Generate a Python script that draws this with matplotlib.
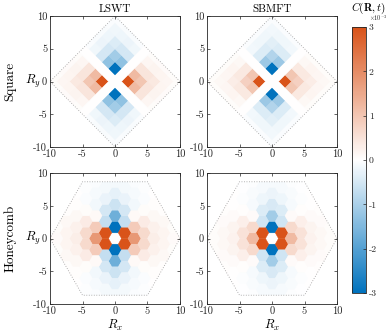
import numpy as np
import matplotlib
matplotlib.use("Agg")
import matplotlib.pyplot as plt
from matplotlib.collections import PolyCollection
from matplotlib.colors import LinearSegmentedColormap, Normalize
from matplotlib.patches import Polygon

plt.rcParams["font.family"] = "serif"
plt.rcParams["font.serif"] = ["cmr10", "DejaVu Serif"]
plt.rcParams["mathtext.fontset"] = "cm"
plt.rcParams["axes.unicode_minus"] = False
plt.rcParams["axes.formatter.use_mathtext"] = True

# ---- data (values in units of 1e-3), first quadrant, mirrored in x and y ----
# square lattice: tile centres (x, y) with x + y even
sq_x = [0, 2, 1, 0, 4, 3, 2, 1, 0, 6, 5, 4, 3, 2, 1, 0,
        8, 7, 6, 5, 4, 3, 2, 1, 0, 10, 9, 8, 7, 6, 5, 4, 3, 2, 1, 0]
sq_y = [0, 0, 1, 2, 0, 1, 2, 3, 4, 0, 1, 2, 3, 4, 5, 6,
        0, 1, 2, 3, 4, 5, 6, 7, 8, 0, 1, 2, 3, 4, 5, 6, 7, 8, 9, 10]
sq_lswt = [0, 3.3, 0, -3.3, 1.0, 1.2, 0, -1.3, -1.1,
           0.38, 0.45, 0.45, 0, -0.5, -0.5, -0.42,
           0.16, 0.18, 0.2, 0.16, 0, -0.18, -0.22, -0.2, -0.18,
           0.06, 0.07, 0.08, 0.08, 0.07, 0, -0.07, -0.08, -0.08, -0.07, -0.06]
sq_sbmft = [0, 3.3, 0, -3.3, 0.8, 1.0, 0, -1.15, -0.9,
            0.32, 0.38, 0.38, 0, -0.42, -0.42, -0.35,
            0.13, 0.15, 0.17, 0.13, 0, -0.15, -0.18, -0.17, -0.15,
            0.05, 0.06, 0.07, 0.07, 0.06, 0, -0.06, -0.07, -0.07, -0.06, -0.05]

# honeycomb: hex tile centres x = 1.5*c, y = r*sqrt(3)/2 with c + r even
hc_c = [0, 0, 0, 0, 0, 0,
        1, 1, 1, 1, 1,
        2, 2, 2, 2, 2, 2,
        3, 3, 3, 3, 3,
        4, 4, 4, 4, 4,
        5, 5, 5,
        6, 6]
hc_r = [0, 2, 4, 6, 8, 10,
        1, 3, 5, 7, 9,
        0, 2, 4, 6, 8, 10,
        1, 3, 5, 7, 9,
        0, 2, 4, 6, 8,
        1, 3, 5,
        0, 2]
hc_lswt = [0, -3.3, -1.7, -0.6, -0.3, -0.12,
           3.3, -0.7, -0.5, -0.25, -0.12,
           1.8, 0.9, 0.1, -0.15, -0.1, -0.05,
           0.65, 0.35, 0.05, -0.05, -0.03,
           0.3, 0.25, 0.12, 0.03, 0.0,
           0.17, 0.12, 0.04,
           0.08, 0.06]
hc_sbmft = [0, -3.3, -1.1, -0.45, -0.22, -0.1,
            3.3, -0.55, -0.4, -0.2, -0.1,
            1.2, 0.65, 0.08, -0.1, -0.08, -0.04,
            0.5, 0.28, 0.04, -0.04, -0.02,
            0.22, 0.2, 0.09, 0.02, 0.0,
            0.13, 0.09, 0.03,
            0.06, 0.05]

cmap = LinearSegmentedColormap.from_list(
    "bwo", ["#0072BD", "#FFFFFF", "#D95319"])
norm = Normalize(vmin=-3, vmax=3)


def mirror(xs, ys, vs):
    cells = {}
    for x, y, v in zip(xs, ys, vs):
        for sx in (1, -1):
            for sy in (1, -1):
                cells[(sx * x, sy * y)] = v
    return cells


def diamond(x, y):
    return [(x + 1, y), (x, y + 1), (x - 1, y), (x, y - 1)]


def hexagon(x, y):
    ang = np.deg2rad(np.arange(0, 360, 60))
    return list(zip(x + np.cos(ang), y + np.sin(ang)))


def draw_panel(ax, polys, vals, boundary):
    pc = PolyCollection(polys, array=np.array(vals), cmap=cmap, norm=norm,
                        edgecolors="face", linewidths=0.3)
    ax.add_collection(pc)
    clip = Polygon(boundary, closed=True, transform=ax.transData)
    pc.set_clip_path(clip)
    ax.add_patch(Polygon(boundary, closed=True, fill=False, ls=(0, (1, 2)),
                         lw=0.6, ec="#9a9a9a"))
    ax.set_xlim(-10, 10)
    ax.set_ylim(-10, 10)
    ticks = [-10, -5, 0, 5, 10]
    ax.set_xticks(ticks)
    ax.set_yticks(ticks)
    ax.set_xticklabels([str(t) for t in ticks])
    ax.set_yticklabels([str(t) for t in ticks])
    ax.tick_params(direction="in", length=2.5, width=0.5, labelsize=7.5,
                   top=True, right=True, colors="#262626", pad=2)
    for s in ax.spines.values():
        s.set_linewidth(0.6)
        s.set_color("#262626")
    return pc


fig = plt.figure(figsize=(3.92, 3.34), dpi=100, facecolor="white")
W, H = 392, 334


def add_ax(x0, y0, w, h):
    return fig.add_axes([x0 / W, 1 - (y0 + h) / H, w / W, h / H])


ax_tl = add_ax(50, 16, 130, 131)
ax_tr = add_ax(207, 16, 130, 131)
ax_bl = add_ax(50, 173, 130, 131)
ax_br = add_ax(207, 173, 130, 131)

sq_bound = [(10, 0), (0, 10), (-10, 0), (0, -10)]
s3 = np.sqrt(3)
hc_bound = [(10, 0), (5, 5 * s3), (-5, 5 * s3), (-10, 0), (-5, -5 * s3), (5, -5 * s3)]

for ax, vals in [(ax_tl, sq_lswt), (ax_tr, sq_sbmft)]:
    cells = mirror(sq_x, sq_y, vals)
    polys = [diamond(x, y) for (x, y) in cells]
    draw_panel(ax, polys, list(cells.values()), sq_bound)

for ax, vals in [(ax_bl, hc_lswt), (ax_br, hc_sbmft)]:
    cells = mirror(hc_c, hc_r, vals)
    polys = [hexagon(1.5 * c, r * s3 / 2) for (c, r) in cells]
    draw_panel(ax, polys, list(cells.values()), hc_bound)

ax_tl.set_title("LSWT", fontsize=8, pad=3)
ax_tr.set_title("SBMFT", fontsize=8, pad=3)
for ax in (ax_tl, ax_bl):
    ax.set_ylabel("$R_y$", fontsize=9, rotation=0, va="center", ha="center")
    ax.yaxis.set_label_coords(-0.13, 0.5)
for ax in (ax_bl, ax_br):
    ax.set_xlabel("$R_x$", fontsize=9, labelpad=1)

fig.text(10 / W, 1 - 81 / H, "Square", rotation=90, fontsize=9.5,
         ha="center", va="center")
fig.text(10 / W, 1 - 238 / H, "Honeycomb", rotation=90, fontsize=9.5,
         ha="center", va="center")

cax = add_ax(352, 27, 14, 266)
cb = fig.colorbar(plt.cm.ScalarMappable(norm=norm, cmap=cmap), cax=cax)
cb.set_ticks([-3, -2, -1, 0, 1, 2, 3])
cb.set_ticklabels(["-3", "-2", "-1", "0", "1", "2", "3"])
cax.tick_params(direction="in", length=2, width=0.5, labelsize=7, pad=2,
                colors="#262626")
cb.outline.set_linewidth(0.6)
cb.outline.set_edgecolor("#262626")
fig.text(368 / W, 1 - 0.3 / H, r"$C(\mathbf{R},t)$", fontsize=8,
         ha="center", va="top")
fig.text(378 / W, 1 - 18 / H, r"$\times10^{-3}$", fontsize=4.5,
         ha="center", va="center", color="#262626")

fig.savefig("out.png", dpi=100, facecolor="white")
